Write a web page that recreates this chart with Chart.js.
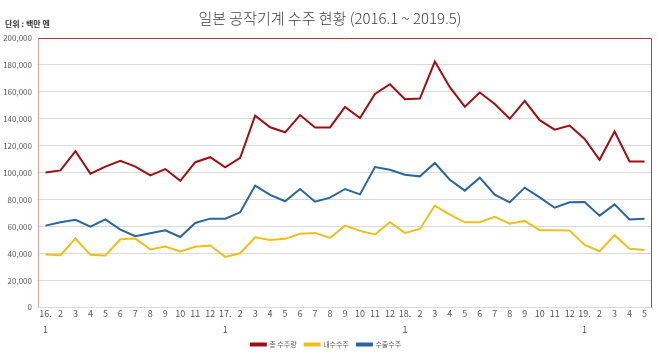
<!DOCTYPE html>
<html>
<head>
<meta charset="utf-8">
<script src="https://cdn.jsdelivr.net/npm/chart.js@4.4.1/dist/chart.umd.min.js"></script>
<style>
  body { margin: 0; background: #fff; }
  #wrap { position: relative; width: 660px; height: 358px; }
  #title { position: absolute; left: 0; width: 660px; top: 7px; text-align: center;
           font: 300 15px "Noto Sans CJK KR", sans-serif; color: #404040; }
  #unit { position: absolute; left: 5px; top: 18px;
          font: bold 8px "Noto Sans CJK KR", sans-serif; color: #333; }
</style>
</head>
<body>
<div id="wrap">
  <canvas id="orderChart" width="660" height="358"></canvas>
  <div id="title">일본 공작기계 수주 현황 (2016.1 ~ 2019.5)</div>
  <div id="unit">단위 : 백만 엔</div>
</div>
<script>
// month labels, 2016.1 ~ 2019.5
const tickLabels = [
  ['16.', '1'], '2', '3', '4', '5', '6', '7', '8', '9', '10', '11', '12',
  ['17.', '1'], '2', '3', '4', '5', '6', '7', '8', '9', '10', '11', '12',
  ['18.', '1'], '2', '3', '4', '5', '6', '7', '8', '9', '10', '11', '12',
  ['19.', '1'], '2', '3', '4', '5'
];

// values in 백만 엔
const totalOrders = [
  100200, 101700, 116000, 99300, 104500, 108900, 104500, 98000, 102700, 94000, 107800, 111500,
  104000, 111000, 142300, 133700, 130000, 142800, 133600, 133600, 148800, 140500, 158500, 165700,
  154500, 155000, 182500, 163500, 149000, 159500, 151000, 140000, 153300, 139000, 132000, 135000,
  125000, 109600, 130600, 108400, 108300
];
const domesticOrders = [
  39300, 38800, 51100, 39000, 38500, 50600, 51100, 43000, 45200, 41500, 45000, 45900,
  37500, 40200, 52100, 50100, 50900, 54600, 55300, 51600, 60700, 56800, 54100, 63200,
  55300, 58200, 75600, 68900, 63200, 63200, 67200, 62200, 64200, 57300, 57300, 57000,
  46400, 41700, 53600, 43500, 42700
];
const exportOrders = [
  60700, 63200, 65000, 60000, 65400, 57800, 52800, 55000, 57300, 52300, 62700, 65900,
  65900, 70600, 90400, 83500, 78800, 87900, 78500, 81500, 87900, 83900, 104200, 102200,
  98500, 97300, 107200, 94800, 86700, 96300, 83700, 78000, 88900, 81700, 74000, 78000,
  78300, 68100, 76500, 65200, 65900
];

const seriesNames = ['총 수주량', '내수수주', '수출수주'];
const seriesColors = ['#a00f14', '#f0bf1a', '#2a659b'];

Chart.defaults.font.family = '"Noto Sans CJK KR", "Noto Sans", sans-serif';
Chart.defaults.color = '#595959';

// red frame round the plot area (bottom stays the grey axis line)
const plotFrame = {
  id: 'plotFrame',
  afterDraw(chart) {
    const { ctx, chartArea: a } = chart;
    ctx.save();
    ctx.lineWidth = 1;
    ctx.strokeStyle = '#b23c3c';
    ctx.beginPath();
    ctx.moveTo(a.left, a.top + 0.5);
    ctx.lineTo(a.right - 0.5, a.top + 0.5);
    ctx.lineTo(a.right - 0.5, a.bottom);
    ctx.stroke();
    ctx.strokeStyle = '#d9a3a3';
    ctx.beginPath();
    ctx.moveTo(a.left + 0.5, a.top);
    ctx.lineTo(a.left + 0.5, a.bottom);
    ctx.stroke();
    ctx.restore();
  }
};

const datasets = [totalOrders, domesticOrders, exportOrders].map((d, i) => ({
  label: seriesNames[i],
  data: d,
  borderColor: seriesColors[i],
  backgroundColor: seriesColors[i],
  borderWidth: 2,
  pointRadius: 0,
  tension: 0
}));

new Chart(document.getElementById('orderChart'), {
  type: 'line',
  data: { labels: tickLabels, datasets: datasets },
  options: {
    responsive: false,
    animation: false,
    layout: { padding: { top: 38, right: 8, left: 0, bottom: 0 } },
    plugins: {
      legend: {
        display: true,
        position: 'bottom',
        labels: {
          boxWidth: 15,
          boxHeight: 2,
          padding: 8,
          font: { size: 7 },
          color: '#595959'
        }
      },
      tooltip: { enabled: false }
    },
    scales: {
      x: {
        offset: true,
        grid: { display: false, drawTicks: false },
        border: { color: '#d9d9d9' },
        ticks: { autoSkip: false, maxRotation: 0, font: { size: 9, lineHeight: 1.78 }, padding: -2 },
        afterFit(scale) { scale.height = 25.6; }
      },
      y: {
        min: 0,
        max: 200000,
        ticks: {
          stepSize: 20000,
          font: { size: 8 },
          padding: 6,
          callback: v => v.toLocaleString('en-US')
        },
        grid: { color: '#d9d9d9', drawTicks: false },
        border: { display: false },
        afterFit(scale) { scale.width = 38; }
      }
    }
  },
  plugins: [plotFrame]
});
</script>
</body>
</html>
